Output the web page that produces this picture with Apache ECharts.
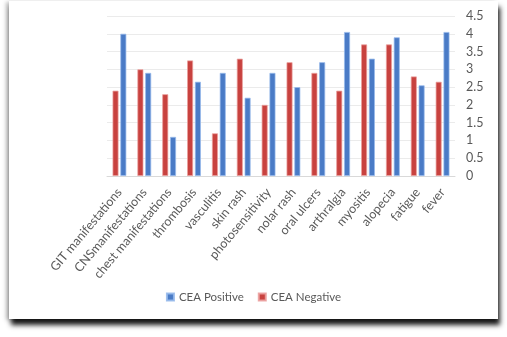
<!DOCTYPE html>
<html>
<head>
<meta charset="utf-8">
<script src="https://cdn.jsdelivr.net/npm/echarts@6/dist/echarts.min.js"></script>
<style>
  html, body { margin: 0; padding: 0; background: #fff; }
  #frame {
    position: absolute; left: 9px; top: 1px; width: 489px; height: 318px;
    background: #fff;
    box-shadow: 2px 6px 5px rgba(0,0,0,0.9), -3px 1px 4px rgba(0,0,0,0.25);
  }
  #chart { position: absolute; left: 0; top: 0; width: 507px; height: 337px; }
</style>
</head>
<body>
<div id="frame"></div>
<div id="chart"></div>
<script>
const categories = [
  "GIT manifestations", "CNSmanifestations", "chest manifestations", "thrombosis",
  "vasculitis", "skin rash", "photosensitivity", "nolar rash", "oral ulcers",
  "arthralgia", "myositis", "alopecia", "fatigue", "fever"
];
const ceaPositive = [4.0, 2.9, 1.1, 2.65, 2.9, 2.2, 2.9, 2.5, 3.2, 4.05, 3.3, 3.9, 2.55, 4.05];
const ceaNegative = [2.4, 3.0, 2.3, 3.25, 1.2, 3.3, 2.0, 3.2, 2.9, 2.4, 3.7, 3.7, 2.8, 2.65];
const seriesNames = ["CEA Positive", "CEA Negative"];

const BLUE = "#4a7bc6";
const RED = "#c8423f";
const TEXT = "#595959";
const FONT = "Lato, 'Open Sans', sans-serif";

const chart = echarts.init(document.getElementById("chart"), null, { renderer: "canvas" });

chart.setOption({
  backgroundColor: "transparent",
  animation: false,
  textStyle: { fontFamily: FONT },
  grid: { left: 107, right: 52, top: 16, bottom: 161, containLabel: false },
  legend: {
    data: seriesNames,
    bottom: 29,
    left: "center",
    itemWidth: 7,
    itemHeight: 7,
    itemGap: 14,
    icon: "rect",
    textStyle: { color: TEXT, fontSize: 11.5, fontFamily: FONT }
  },
  xAxis: {
    type: "category",
    data: categories,
    axisLine: { lineStyle: { color: "#d9d9d9" } },
    axisTick: { show: false },
    axisLabel: {
      rotate: 50,
      interval: 0,
      color: TEXT,
      fontSize: 12.5,
      margin: 14,
      fontFamily: FONT
    }
  },
  yAxis: {
    type: "value",
    position: "right",
    min: 0,
    max: 4.5,
    interval: 0.5,
    axisLine: { show: false },
    axisTick: { show: false },
    splitLine: { lineStyle: { color: "#ebebeb" } },
    axisLabel: { color: TEXT, fontSize: 12.5, margin: 11, fontFamily: FONT }
  },
  series: [
    {
      name: seriesNames[1],
      type: "bar",
      data: ceaNegative,
      barWidth: 6,
      barGap: "30%",
      itemStyle: { color: RED, borderColor: "rgba(235,160,158,0.9)", borderWidth: 0.8 }
    },
    {
      name: seriesNames[0],
      type: "bar",
      data: ceaPositive,
      barWidth: 6,
      barGap: "30%",
      itemStyle: { color: BLUE, borderColor: "rgba(150,185,235,0.9)", borderWidth: 0.8 }
    }
  ]
});
</script>
</body>
</html>
